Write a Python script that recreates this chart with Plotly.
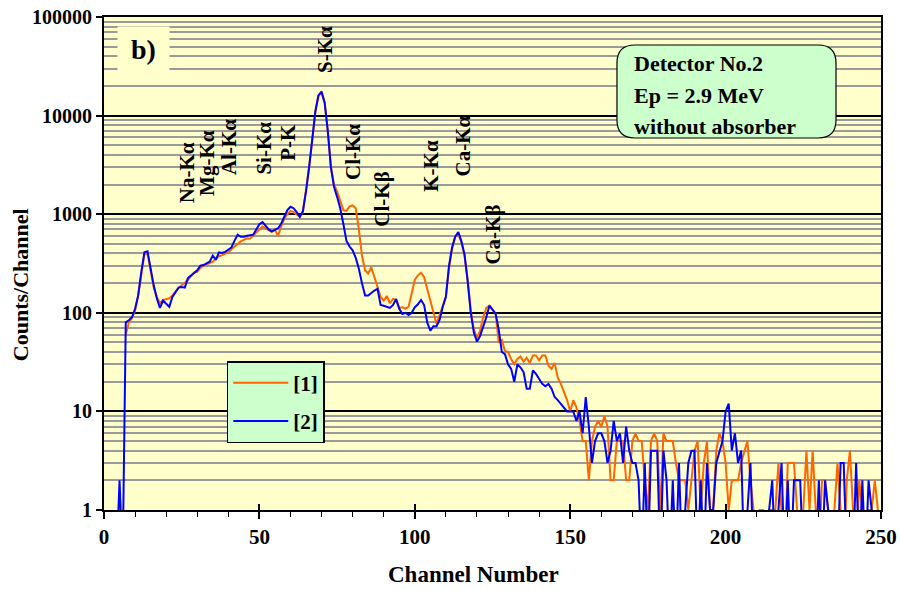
import plotly.graph_objects as go

# ---- spectrum data: counts per channel, channels 0..250 ----
channels = list(range(251))

# series [1] (orange)
counts_1 = [
    None, None, None, None, None, None, None, 60, 80, 88,          # 0-9
    105, 150, 240, 390, 400, 270, 180, 145, 125, 135,              # 10-19
    138, 140, 150, 165, 180, 190, 200, 215, 235, 255,              # 20-29
    260, 285, 300, 310, 325, 330, 355, 375, 385, 395,              # 30-39
    410, 440, 470, 505, 530, 550, 570, 565, 610, 650,              # 40-49
    700, 750, 720, 690, 660, 700, 600, 750, 900, 1000,             # 50-59
    1080, 1050, 1000, 940, 1050, 1700, 3000, 5500, 11000, 16000,   # 60-69
    17000, 13500, 7000, 3000, 2000, 1700, 1400, 1100, 1080, 1200,  # 70-79
    1230, 1150, 700, 380, 270, 250, 290, 230, 175, 145,            # 80-89
    133, 148, 125, 138, 135, 112, 114, 110, 115, 160,              # 90-99
    215, 240, 255, 230, 175, 130, 95, 77, 95, 120,                 # 100-109
    145, 280, 450, 590, 620, 520, 380, 220, 105, 68,               # 110-119
    55, 66, 90, 112, 118, 108, 98, 50, 53, 41,                     # 120-129
    40, 34, 30, 34, 36, 32, 35, 31, 37, 37,                        # 130-139
    33, 37, 37, 29, 27, 31, 22, 19, 16, 13,                        # 140-149
    10, 13, 11, 8, 5, 5, 2, 5, 7, 8,                               # 150-159
    7, 9, 7, 2, 2, 5, 5, 5, 2, 2,                                  # 160-169
    5, 6, 5, 5, 2, 1, 5, 6, 5, 1,                                  # 170-179
    6, 5, 5, 5, 3, 2, 2, 2, 1, 2,                                  # 180-189
    4, 5, 1, 3, 5, 1, 1, 4, 6, 5,                                  # 190-199
    3, 1, 2, 2, 2, 3, 4, 5, 2, 1,                                  # 200-209
    0, 1, 1, 0, 1, 1, 1, 3, 1, 0,                                  # 210-219
    3, 3, 3, 1, 0, 1, 4, 1, 4, 1,                                  # 220-229
    0, 2, 2, 1, 0, 1, 3, 1, 0, 2,                                  # 230-239
    4, 1, 0, 2, 1, 0, 1, 1, 2, 1,                                  # 240-249
    0,                                                             # 250
]

# series [2] (blue)
counts_2 = [
    None, None, None, None, 0, 2, 0, 80, 84, 90,                   # 0-9
    110, 150, 260, 410, 420, 280, 190, 140, 112, 133,              # 10-19
    122, 115, 145, 160, 180, 183, 180, 225, 240, 252,              # 20-29
    270, 300, 305, 318, 330, 380, 345, 410, 405, 415,              # 30-39
    440, 460, 540, 620, 590, 590, 605, 615, 620, 700,              # 40-49
    790, 830, 760, 700, 670, 690, 720, 800, 950, 1100,             # 50-59
    1190, 1150, 1050, 940, 1080, 1700, 3000, 5500, 11000, 16000,   # 60-69
    17500, 13500, 7000, 3000, 1900, 1500, 1150, 800, 540, 470,     # 70-79
    430, 360, 280, 200, 150, 150, 160, 168, 175, 120,              # 80-89
    118, 115, 112, 120, 138, 110, 97, 100, 95, 100,                # 90-99
    114, 122, 135, 120, 80, 66, 73, 73, 85, 115,                   # 100-109
    145, 300, 460, 590, 660, 530, 390, 210, 101, 63,               # 110-119
    51, 58, 72, 90, 118, 108, 98, 68, 40, 38,                      # 120-129
    30, 27, 20, 30, 28, 25, 17, 17, 26, 24,                        # 130-139
    21, 19, 18, 19, 17, 14, 13, 12, 11, 10,                        # 140-149
    10, 10, 8, 10, 6, 14, 7, 3, 5, 6,                              # 150-159
    6, 5, 3, 4, 8, 5, 6, 3, 7, 4,                                  # 160-169
    3, 3, 2, 0, 3, 0, 4, 4, 4, 0,                                  # 170-179
    4, 2, 0, 2, 0, 3, 0, 1, 3, 4,                                  # 180-189
    4, 0, 2, 0, 3, 1, 1, 3, 4, 5,                                  # 190-199
    10, 12, 4, 6, 3, 4, 0, 1, 3, 0,                                # 200-209
    0, 1, 0, 0, 1, 2, 0, 1, 3, 0,                                  # 210-219
    2, 0, 2, 2, 2, 0, 1, 0, 1, 0,                                  # 220-229
    2, 0, 2, 1, 0, 1, 0, 3, 3, 0,                                  # 230-239
    1, 0, 3, 0, 2, 0, 2, 1, 0, 1,                                  # 240-249
    0,                                                             # 250
]

series_names = ["[1]", "[2]"]
series_colors = ["#ff6600", "#0000ff"]

x_tick_values = [0, 50, 100, 150, 200, 250]
y_tick_values = [1, 10, 100, 1000, 10000, 100000]
y_tick_labels = ["1", "10", "100", "1000", "10000", "100000"]

x_title = "Channel Number"
y_title = "Counts/Channel"

# characteristic X-ray lines: (label, channel, log10 of the label's lower end)
line_labels = ["Na-Kα", "Mg-Kα", "Al-Kα", "Si-Kα", "P-K", "S-Kα",
               "Cl-Kα", "Cl-Kβ", "K-Kα", "Ca-Kα", "Ca-Kβ"]
line_channels = [26.5, 33.3, 40.0, 51.6, 59.3, 70.9, 79.9, 89.5, 105.3, 115.6, 125.2]
line_label_base = [3.09, 3.16, 3.38, 3.38, 3.52, 4.41, 3.33, 2.85, 3.21, 3.36, 2.47]

info_lines = ["Detector No.2", "Ep = 2.9 MeV", "without absorber"]

assert len(counts_1) == len(channels) and len(counts_2) == len(channels)

FONT = "Liberation Serif"
PLOT_BG = "#ffffcc"
BOX_BG = "#ccffcc"


def for_log_axis(values):
    # empty channels cannot sit on a log axis: park them just under the
    # bottom of the frame so the trace drops out of view there
    return [None if v is None else (v if v > 0 else 0.3) for v in values]


def bold(size):
    return dict(family=FONT, size=size, color="black", weight="bold")


fig = go.Figure()
for name, color, counts in zip(series_names, series_colors, [counts_1, counts_2]):
    fig.add_trace(go.Scatter(
        x=channels, y=for_log_axis(counts), name=name, mode="lines",
        line=dict(color=color, width=2), legendgroup=name,
    ))

# peak identification labels, written upward
annotations = []
for text, ch, base in zip(line_labels, line_channels, line_label_base):
    annotations.append(dict(
        x=ch, y=base, xref="x", yref="y", text=text, textangle=-90,
        showarrow=False, xanchor="center", yanchor="bottom", font=bold(21),
    ))

# axis titles
annotations.append(dict(
    x=0.475, y=-0.1318, xref="paper", yref="paper", text=x_title,
    showarrow=False, xanchor="center", yanchor="middle", font=bold(23),
))
annotations.append(dict(
    x=-0.1081, y=0.456, xref="paper", yref="paper", text=y_title,
    textangle=-90, showarrow=False, xanchor="center", yanchor="middle",
    font=bold(22),
))

# panel tag
annotations.append(dict(
    x=0.0508, y=0.9351, xref="paper", yref="paper", text="b)",
    showarrow=False, xanchor="center", yanchor="middle",
    width=49, height=42, bgcolor=PLOT_BG, font=bold(28),
))

# measurement conditions box text
for text, yp in zip(info_lines, [0.9047, 0.8398, 0.7789]):
    annotations.append(dict(
        x=0.6795, y=yp, xref="paper", yref="paper", text=text,
        showarrow=False, xanchor="left", yanchor="middle", font=bold(22),
    ))

# rounded box behind the conditions text (paper coordinates)
x0, x1, y0, y1 = 0.6602, 0.9421, 0.7546, 0.9432
rx, ry = 0.0232, 0.0365
box_path = (
    f"M {x0 + rx} {y0} L {x1 - rx} {y0} Q {x1} {y0} {x1} {y0 + ry} "
    f"L {x1} {y1 - ry} Q {x1} {y1} {x1 - rx} {y1} "
    f"L {x0 + rx} {y1} Q {x0} {y1} {x0} {y1 - ry} "
    f"L {x0} {y0 + ry} Q {x0} {y0} {x0 + rx} {y0} Z"
)
shapes = [dict(type="path", path=box_path, xref="paper", yref="paper",
               fillcolor=BOX_BG, line=dict(color="black", width=1.2),
               layer="above")]

fig.update_layout(
    width=900, height=590,
    margin=dict(l=104, r=19, t=17, b=80),
    paper_bgcolor="white", plot_bgcolor=PLOT_BG,
    font=bold(21),
    showlegend=True,
    legend=dict(
        x=0.158, y=0.302, xanchor="left", yanchor="top",
        bgcolor=BOX_BG, bordercolor="black", borderwidth=1.5,
        font=bold(21), tracegroupgap=8, traceorder="grouped", itemwidth=55,
    ),
    annotations=annotations,
    shapes=shapes,
    xaxis=dict(
        range=[0, 250], tickmode="array", tickvals=x_tick_values,
        ticks="outside", ticklen=7, tickwidth=1.5, tickcolor="black",
        minor=dict(dtick=10, ticks="outside", ticklen=5, tickwidth=1.2,
                   tickcolor="black", showgrid=False),
        showgrid=False, zeroline=False, automargin=False,
        showline=True, linecolor="black", linewidth=2, mirror=True,
        tickfont=bold(21),
    ),
    xaxis2=dict(
        overlaying="x", matches="x", anchor="y", side="bottom",
        range=[0, 250], tickmode="array", tickvals=x_tick_values,
        ticks="inside", ticklen=6, tickwidth=1.5, tickcolor="black",
        showticklabels=False, showgrid=False, zeroline=False, showline=False,
        automargin=False,
    ),
    yaxis=dict(
        type="log", range=[0, 5], tickmode="array",
        tickvals=y_tick_values, ticktext=y_tick_labels,
        ticks="outside", ticklen=6, tickwidth=1.5, tickcolor="black",
        showgrid=True, gridcolor="black", gridwidth=1.5,
        minor=dict(dtick="D1", showgrid=True, gridcolor="#9a9a9a",
                   gridwidth=2, ticks=""),
        zeroline=False, automargin=False,
        showline=True, linecolor="black", linewidth=2, mirror=True,
        tickfont=bold(20),
    ),
)

# empty trace so the overlaid tick axis is laid out
fig.add_trace(go.Scatter(x=[None], y=[None], xaxis="x2", showlegend=False,
                         hoverinfo="skip"))

fig.write_html("out.html")
